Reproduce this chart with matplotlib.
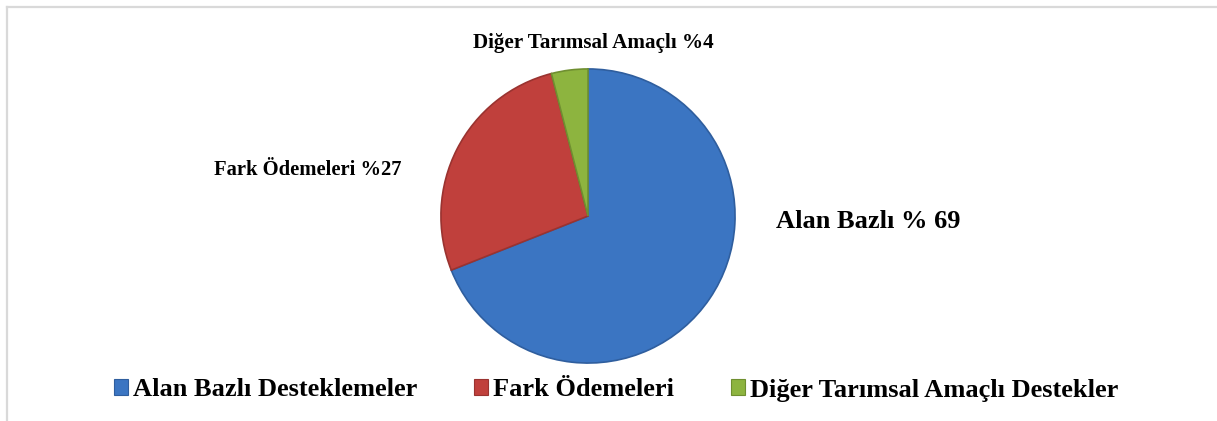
import matplotlib
matplotlib.use("Agg")
import matplotlib.pyplot as plt
from matplotlib.patches import Patch
from matplotlib.lines import Line2D

categories = ["Alan Bazlı Desteklemeler", "Fark Ödemeleri", "Diğer Tarımsal Amaçlı Destekler"]
values = [69, 27, 4]
slice_labels = ["Alan Bazlı % 69", "Fark Ödemeleri %27", "Diğer Tarımsal Amaçlı %4"]
colors = ["#3B75C2", "#C0403C", "#8DB43F"]
edge_colors = ["#2F5E9E", "#9A3330", "#6F8F30"]

W, H = 1217, 421
fig = plt.figure(figsize=(W / 100, H / 100), dpi=100)
fig.patch.set_facecolor("white")

def fx(px):
    return px / W

def fy(py):
    return 1 - py / H

# chart-area border (top and left visible)
fig.add_artist(Line2D([fx(7), fx(W + 5)], [fy(7), fy(7)], color="#D9D9D9", lw=1.6, transform=fig.transFigure))
fig.add_artist(Line2D([fx(7), fx(7)], [fy(7), fy(H + 5)], color="#D9D9D9", lw=1.6, transform=fig.transFigure))

cx, cy, r = 588, 216, 150
ax = fig.add_axes([fx(cx - r), fy(cy + r), fx(2 * r), (2 * r) / H])
wedges, _ = ax.pie(values, colors=colors, startangle=90, counterclock=False,
                   radius=1.0, wedgeprops=dict(linewidth=1.2))
for w, ec in zip(wedges, edge_colors):
    w.set_edgecolor(ec)
ax.set_xlim(-1.02, 1.02)
ax.set_ylim(-1.02, 1.02)
ax.set_aspect("equal")
ax.axis("off")

serif = ["Liberation Serif", "DejaVu Serif"]
fig.text(fx(868), fy(221), slice_labels[0], ha="center", va="center",
         fontsize=19, fontweight="bold", family=serif)
fig.text(fx(402), fy(170), slice_labels[1], ha="right", va="center",
         fontsize=14.9, fontweight="bold", family=serif)
fig.text(fx(593), fy(43), slice_labels[2], ha="center", va="center",
         fontsize=15.2, fontweight="bold", family=serif)

handles = [Patch(facecolor=c, edgecolor=ec, linewidth=0.8) for c, ec in zip(colors, edge_colors)]
leg = fig.legend(handles, categories, loc="center", bbox_to_anchor=(fx(616), fy(390)),
                 ncol=3, frameon=False, handlelength=0.53, handleheight=0.53,
                 handletextpad=0.19, columnspacing=2.15,
                 prop=dict(family=serif, weight="bold", size=19))

fig.savefig("out.png", dpi=100)
